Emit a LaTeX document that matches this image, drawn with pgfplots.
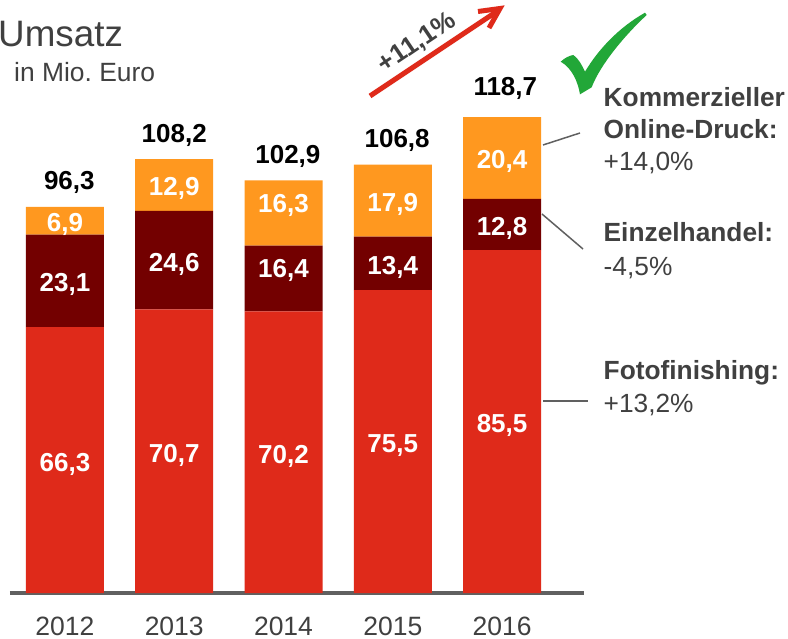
\documentclass[border=0pt]{standalone}
\usepackage{pgfplots}
\pgfplotsset{compat=1.18}
\usepackage{fontspec}
\setmainfont{Liberation Sans}
\frenchspacing
\definecolor{cred}{HTML}{DF2A1A}
\definecolor{cdark}{HTML}{730000}
\definecolor{corange}{HTML}{FF981F}
\definecolor{cgreen}{HTML}{22A738}
\definecolor{ctext}{HTML}{404040}
\definecolor{caxis}{HTML}{606060}
\newcommand{\fs}[1]{\fontsize{#1}{#1}\selectfont}
\pgfplotsset{
  base/.style={
    scale only axis, width=574pt, height=521.3pt,
    at={(10pt,-593pt)}, anchor=south west,
    xmin=-0.503, xmax=4.75, ymin=0, ymax=130,
  },
  lab/.style={
    only marks, mark=none, point meta=explicit symbolic,
    nodes near coords,
  },
}
\begin{document}
\begin{tikzpicture}[x=1pt,y=-1pt]
\clip (0,0) rectangle (788,639);
\path[fill=white] (0,0) rectangle (788,639);
\begin{axis}[base,
  ybar stacked, bar width=78pt,
  axis y line=none, axis x line*=bottom,
  axis line style={caxis, line width=3.6pt, -},
  xtick={0,1,2,3,4}, xticklabels={2012,2013,2014,2015,2016},
  major tick length=0pt,
  x tick label style={font=\fs{26.5}, text=ctext, inner sep=0pt, yshift=-23.8pt},
  clip=false,
]
\addplot[fill=cred, draw=none] coordinates {(0,66.3) (1,70.7) (2,70.2) (3,75.5) (4,85.5)};
\addplot[fill=cdark, draw=none] coordinates {(0,23.1) (1,24.6) (2,16.4) (3,13.4) (4,12.8)};
\addplot[fill=corange, draw=none] coordinates {(0,6.9) (1,12.9) (2,16.3) (3,17.9) (4,20.4)};
\end{axis}
\begin{axis}[base, axis lines=none, clip=false,
  every node near coord/.append style={font=\bfseries\fs{26}, anchor=base, inner sep=0pt},
]
\addplot[lab, every node near coord/.append style={text=white, yshift=-11pt}] table[meta=l] {
x y l
0 33.15 66,3
1 35.35 70,7
2 35.1 70,2
3 37.75 75,5
4 42.75 85,5
0 77.85 23,1
1 83.0 24,6
2 81.4 16,4
3 82.2 13,4
4 91.9 12,8
0 92.85 6,9
1 101.75 12,9
2 97.75 16,3
3 97.85 17,9
4 108.5 20,4
};
\addplot[lab, every node near coord/.append style={text=black, yshift=17pt}] table[meta=l] {
x y l
0.04 96.3 96,3
1 108.2 108,2
2.04 102.9 102,9
3.04 106.8 106,8
4.03 119.7 118,7
};
\end{axis}
% title
\node[anchor=base west, inner sep=0pt, text=ctext, font=\fs{36.8}] at (-2,47) {Umsatz};
\node[anchor=base west, inner sep=0pt, text=ctext, font=\fs{26.4}] at (14,82) {in Mio. Euro};
% arrow
\draw[cred, line width=5pt] (370,96) -- (499,10);
\draw[cred, line width=5pt, line join=miter] (478,11.5) -- (500,8.5) -- (489,28);
\node[rotate=34, text=ctext, font=\bfseries\fs{26}, inner sep=0pt] at (417,43) {+11,1\%};
% check mark
\fill[cgreen] (560.7,61.7) .. controls (565,57.5) and (570,55.5) .. (573.3,55)
  .. controls (578,58) and (582,65) .. (585,71.7)
  .. controls (598,50) and (618,28) .. (645,12.7)
  -- (646.7,15)
  .. controls (625,35) and (600,65) .. (591.7,87.3)
  -- (580,94.3)
  .. controls (578,82) and (572,68) .. (560.7,61.7) -- cycle;
% leader lines
\draw[caxis, line width=1.5pt] (543,145) -- (580,133);
\draw[caxis, line width=1.5pt] (542,214) -- (583,249);
\draw[caxis, line width=1.5pt] (543,401) -- (588,401);
% side labels
\begin{scope}[every node/.style={anchor=base west, inner sep=0pt, text=ctext, font=\fs{26.3}}]
\node[font=\bfseries\fs{26.3}] at (603.5,106.5) {Kommerzieller};
\node[font=\bfseries\fs{26.3}] at (603.5,138.5) {Online-Druck:};
\node at (603.5,171) {+14,0\%};
\node[font=\bfseries\fs{26.3}] at (603.5,242) {Einzelhandel:};
\node at (603.5,275.5) {-4,5\%};
\node[font=\bfseries\fs{26.3}] at (603.5,380) {Fotofinishing:};
\node at (603.5,412) {+13,2\%};
\end{scope}
\end{tikzpicture}
\end{document}
